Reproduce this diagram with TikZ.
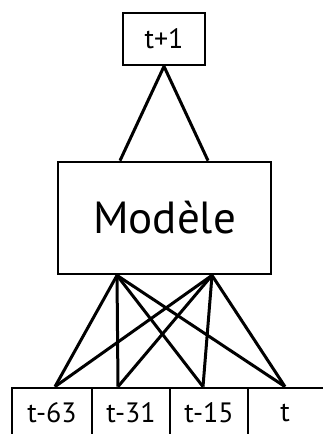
\documentclass[tikz,border=0pt]{standalone}
\usepackage{fontspec}
\setmainfont{PT Sans}
\usetikzlibrary{calc}
\begin{document}
\begin{tikzpicture}[x=1pt,y=-1pt,
  box/.style={draw, line width=2.7pt, inner sep=0pt},
  small/.style={font=\fontsize{28}{30}\selectfont},
  big/.style={font=\fontsize{45}{48}\selectfont},
  link/.style={line width=3pt}]
\useasboundingbox (0,0) rectangle (323,434);
\clip (0,0) rectangle (323,434);
\node[box, small, minimum width=82pt, minimum height=52pt] (out) at (164,39) {t+1};
\node[box, big, minimum width=213pt, minimum height=112pt] (model) at (164.5,218) {Modèle};
\node[box, small, minimum width=80pt, minimum height=50pt] (c1) at (52,413) {t-63};
\node[box, small, minimum width=78pt, minimum height=50pt] (c2) at (131,413) {t-31};
\node[box, small, minimum width=78pt, minimum height=50pt] (c3) at (209,413) {t-15};
\node[box, minimum width=92pt, minimum height=50pt] (c4) at (294,413) {};
\node[small, inner sep=0pt] (t4) at (285,413) {t};
% top connectors
\draw[link] (out.south) -- ($(model.north)+(-44.5,0)$);
\draw[link] (out.south) -- ($(model.north)+(43.5,0)$);
% bottom connectors
\coordinate (ml) at ($(model.south)+(-47.5,0)$);
\coordinate (mr) at ($(model.south)+(47.5,0)$);
\foreach \m in {ml,mr}{
  \draw[link] (\m) -- ($(c1.north)+(3,0)$);
  \draw[link] (\m) -- ($(c2.north)+(-13,0)$);
  \draw[link] (\m) -- ($(c3.north)+(-6,0)$);
  \draw[link] (\m) -- ($(c4.north)+(-9,0)$);
}
\end{tikzpicture}
\end{document}
